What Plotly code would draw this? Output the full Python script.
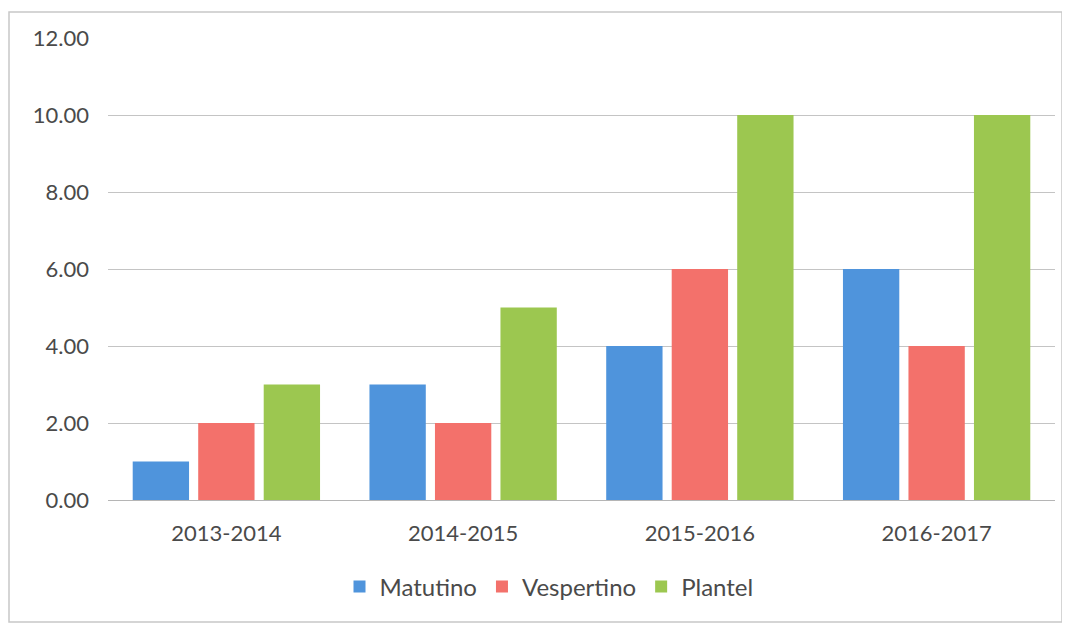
import plotly.graph_objects as go

categories = ["2013-2014", "2014-2015", "2015-2016", "2016-2017"]
matutino = [1, 3, 4, 6]
vespertino = [2, 2, 6, 4]
plantel = [3, 5, 10, 10]
series_names = ["Matutino", "Vespertino", "Plantel"]
colors = ["#4f94dc", "#f3716b", "#9cc750"]
tick_vals = [0, 2, 4, 6, 8, 10, 12]
tick_text = ["0.00", "2.00", "4.00", "6.00", "8.00", "10.00", "12.00"]

fig = go.Figure()
for name, vals, c in zip(series_names, [matutino, vespertino, plantel], colors):
    fig.add_trace(go.Bar(x=categories, y=vals, name=name, marker=dict(color=c, line=dict(width=0))))

# page body has an 8px offset; work in figure coordinates
OFF = 8
W, H = 1070 - OFF, 626 - OFF
L, T = 108 - OFF, 38 - OFF
R = W - (1055 - OFF)
B = H - (500 - OFF)
pw, ph = W - L - R, H - T - B


def px_x(x):
    return (x - OFF - L) / pw


def px_y(y):
    return (H - B - (y - OFF)) / ph


fig.update_layout(
    width=W, height=H,
    margin=dict(l=L, r=R, t=T, b=B, autoexpand=False),
    paper_bgcolor="white", plot_bgcolor="white",
    barmode="group", bargap=0.17, bargroupgap=0.14,
    font=dict(family="Lato, Open Sans, sans-serif", size=22, color="#4a4a4a"),
    xaxis=dict(showgrid=False, showline=True, linecolor="#b5b5b5", linewidth=1,
               ticks="", ticklabelstandoff=14, tickfont=dict(size=22, color="#4a4a4a")),
    yaxis=dict(range=[0, 12], tickvals=tick_vals, ticktext=tick_text,
               showgrid=True, gridcolor="#c4c4c4", gridwidth=1, zeroline=False,
               showline=False, ticks="", ticklen=0, ticklabelstandoff=18,
               tickfont=dict(size=22, color="#4a4a4a")),
    legend=dict(orientation="h", x=px_x(549), xanchor="center",
                y=px_y(587), yanchor="middle",
                font=dict(size=24, color="#4a4a4a"), itemwidth=30, traceorder="normal"),
    shapes=[dict(type="rect", xref="paper", yref="paper",
                 x0=px_x(9), x1=px_x(1062),
                 y0=px_y(622), y1=px_y(12),
                 line=dict(color="#c8c8c8", width=1.5))],
)
fig.write_html("out.html")
